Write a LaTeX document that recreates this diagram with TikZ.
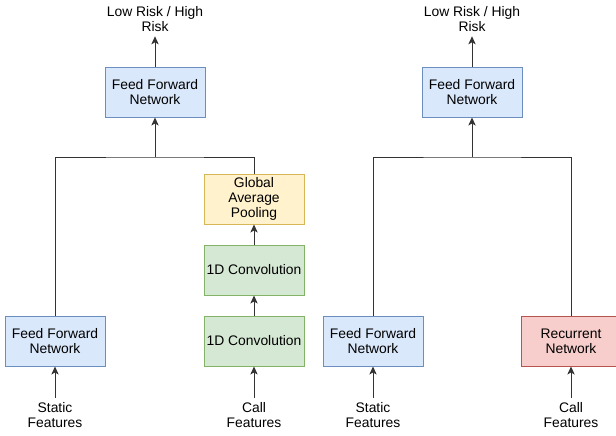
\documentclass[tikz,border=0pt]{standalone}
\usepackage{fontspec}
\setmainfont{Liberation Sans}
\usetikzlibrary{arrows.meta,positioning}
\definecolor{ffnfill}{HTML}{DAE8FC}
\definecolor{ffnline}{HTML}{6C8EBF}
\definecolor{convfill}{HTML}{D5E8D4}
\definecolor{convline}{HTML}{82B366}
\definecolor{poolfill}{HTML}{FFF2CC}
\definecolor{poolline}{HTML}{D6B656}
\definecolor{rnnfill}{HTML}{F8CECC}
\definecolor{rnnline}{HTML}{B85450}

\begin{document}
\begin{tikzpicture}[x=0.75pt,y=-0.75pt,
            every node/.style={align=center, font=\fontsize{10.4}{11.25}\selectfont},
            block/.style={draw, line width=0.75pt, minimum width=75pt, minimum height=37.5pt, inner sep=0pt},
            ffn/.style={block, fill=ffnfill, draw=ffnline},
            conv/.style={block, fill=convfill, draw=convline},
            pool/.style={block, fill=poolfill, draw=poolline},
            rnn/.style={block, fill=rnnfill, draw=rnnline},
            to/.style={-{Stealth[length=6pt,width=5.5pt,inset=1.5pt]}, line width=0.75pt, draw=black!80},
            wire/.style={line width=0.75pt, draw=black!80},
            node distance = 15pt
  ]

  \useasboundingbox (0,0) rectangle (616,435);

  % CNN model
  \node[ffn] (topA) at (155,92) {Feed Forward\\Network};
  \node (outA) at (155,19) {Low Risk / High\\Risk};
  \node[ffn] (statA) at (55,341) {Feed Forward\\Network};
  \node[conv] (convA2) at (254,341) {1D Convolution};
  \node[conv] (convA1) [above=of convA2] {1D Convolution};
  \node[pool] (poolA) [above=of convA1] {Global\\Average\\Pooling};
  \node (inA1) at (55,415) {Static\\Features};
  \node (inA2) at (254,415) {Call\\Features};
  \coordinate (busA) at (155,157);

  \draw[to] (inA1) -- (statA);
  \draw[to] (inA2) -- (convA2);
  \draw[to] (convA2) -- (convA1);
  \draw[to] (convA1) -- (poolA);
  \draw[wire] (statA) |- (busA) -| (poolA);
  \draw[to] (busA) -- (topA);
  \draw[to] (topA) -- (outA);

  % RNN model
  \node[ffn] (topB) at (472,92) {Feed Forward\\Network};
  \node (outB) at (472,19) {Low Risk / High\\Risk};
  \node[ffn] (statB) at (373,341) {Feed Forward\\Network};
  \node[rnn] (rnnB) at (571,341) {Recurrent\\Network};
  \node (inB1) at (373,415) {Static\\Features};
  \node (inB2) at (571,415) {Call\\Features};
  \coordinate (busB) at (472,157);

  \draw[to] (inB1) -- (statB);
  \draw[to] (inB2) -- (rnnB);
  \draw[wire] (statB) |- (busB) -| (rnnB);
  \draw[to] (busB) -- (topB);
  \draw[to] (topB) -- (outB);

\end{tikzpicture}
\end{document}
